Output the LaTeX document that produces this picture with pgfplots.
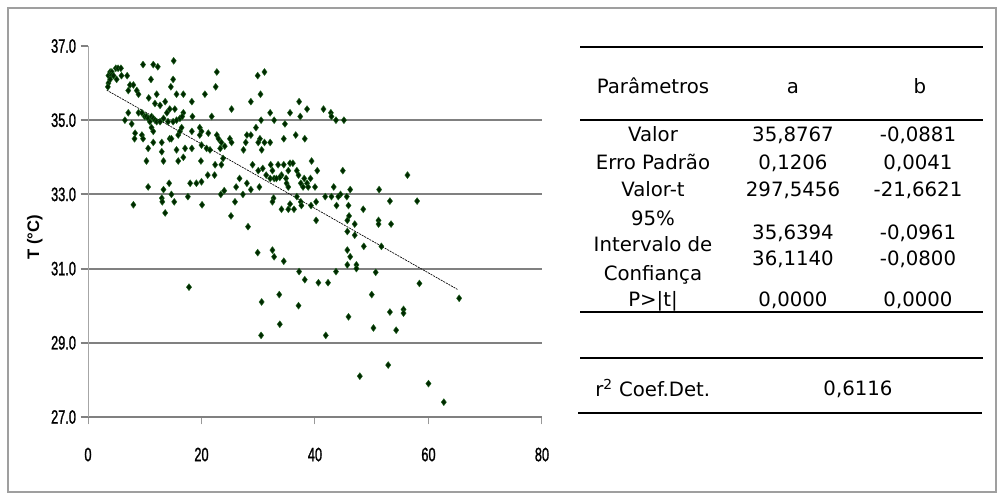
\documentclass[border=0pt]{standalone}
\usepackage{fontspec}
\setmainfont{DejaVu Sans}
\newfontfamily\tabfont{DejaVu Sans}
\newfontfamily\tickfont[FakeStretch=0.66,FakeBold=1.2]{Liberation Sans}
\newfontfamily\labfont{Liberation Sans}
\usepackage{pgfplots}
\pgfplotsset{compat=1.18}
\usepackage{pgfplotstable}
\definecolor{mkfill}{RGB}{0,40,0}
\definecolor{mkdraw}{RGB}{30,100,30}
\definecolor{gridgray}{RGB}{128,128,128}

\pgfplotstableread{
x y
3.6 36.2
3.9 36.3
4.2 36.3
4.1 36.2
4.5 36.2
4.9 36.4
5.3 36.4
5.8 36.4
5.05 36.1
5.9 36.2
6.9 36.2
3.6 36.0
3.5 35.9
3.9 36.1
9.7 36.5
11.5 36.5
12.3 36.44
15.1 36.6
11.1 36.1
15.0 36.1
14.6 35.9
22.7 36.3
22.5 35.9
7.4 35.95
8.0 35.95
7.1 35.8
8.6 35.8
8.9 35.7
10.7 35.6
12.1 35.7
15.6 35.7
16.8 35.7
20.6 35.7
18.3 35.5
25.3 35.3
13.6 35.5
11.8 35.45
12.7 35.4
14.4 35.3
13.9 35.2
15.3 35.3
16.8 35.2
21.8 35.1
18.4 35.1
7.1 35.2
8.9 35.2
9.5 35.2
10.0 35.1
10.3 35.1
10.6 35.05
11.2 35.1
11.5 35.05
11.8 35.0
10.9 34.96
12.1 34.96
12.7 34.96
7.7 34.9
6.5 35.0
13.3 35.05
14.1 34.96
15.0 34.96
16.2 35.05
16.6 35.1
15.6 35.0
11.2 34.8
11.5 34.7
8.3 34.65
8.2 34.5
9.5 34.6
9.7 34.5
11.5 34.4
13.0 34.4
14.4 34.5
14.7 34.5
15.9 34.6
16.2 34.7
16.5 34.8
18.3 34.7
19.7 34.8
20.0 34.7
19.7 34.6
21.2 34.65
22.7 34.6
23.0 34.5
25.0 34.5
25.3 34.4
23.5 34.4
10.6 34.24
13.0 34.15
15.6 34.2
17.1 34.24
18.3 34.24
20.0 34.33
20.9 34.24
21.5 34.2
23.3 34.24
24.1 34.3
10.3 33.9
13.3 33.9
15.9 33.9
16.8 34.0
19.9 33.9
22.4 33.8
23.5 33.8
23.8 33.97
21.1 33.52
22.3 33.52
20.0 33.34
19.1 33.3
18.0 33.3
14.3 33.3
10.6 33.2
13.3 33.13
14.7 33.0
17.6 32.94
23.4 33.0
24.0 33.1
13.0 32.9
8.0 32.72
13.1 32.8
13.6 32.5
15.2 32.8
17.8 30.5
20.1 32.72
25.2 32.42
29.9 36.2
31.1 36.3
30.4 35.7
28.7 35.5
37.2 35.5
32.1 35.2
35.6 35.2
37.4 35.1
38.6 35.3
41.5 35.3
42.8 35.2
42.9 35.1
43.7 35.0
45.1 35.0
30.5 35.0
32.8 35.0
34.7 34.9
29.6 34.8
28.0 34.6
28.7 34.6
27.8 34.4
30.3 34.5
30.0 34.4
31.1 34.4
32.1 34.4
27.4 34.2
30.6 34.2
34.5 34.5
36.6 34.6
38.2 34.5
39.4 33.9
29.0 33.8
32.2 33.8
33.5 33.8
34.5 33.8
35.6 33.84
36.1 33.84
30.8 33.7
30.0 33.64
32.5 33.64
35.3 33.64
36.8 33.64
40.4 33.64
44.9 33.64
31.4 33.52
34.1 33.52
33.8 33.46
37.1 33.52
26.7 33.43
32.1 33.43
32.8 33.43
33.2 33.43
34.9 33.43
38.1 33.43
39.2 33.43
28.0 33.3
26.1 33.2
30.2 33.2
28.7 33.13
35.0 33.3
35.3 33.2
37.5 33.3
37.9 33.2
38.6 33.3
38.8 33.2
40.0 33.2
43.3 33.2
46.2 33.13
27.3 33.0
44.5 33.0
36.8 32.94
41.8 32.94
42.9 32.94
44.1 32.94
45.6 32.94
32.7 32.9
25.9 32.8
32.5 32.8
34.1 32.6
35.3 32.6
35.6 32.74
36.3 32.6
37.5 32.8
37.6 32.7
39.3 32.7
40.2 32.8
43.8 32.7
45.9 32.7
48.5 32.6
40.2 32.3
46.0 32.42
45.7 32.3
47.0 32.2
45.7 32.0
47.0 31.9
48.6 31.6
28.2 32.13
29.9 31.43
32.5 31.5
32.8 31.32
34.5 31.2
45.7 31.5
46.2 31.32
45.7 31.1
47.3 31.1
47.3 31.0
37.2 30.92
38.2 30.7
40.6 30.62
42.3 30.62
43.7 30.92
30.6 30.1
33.7 30.3
37.1 30.0
45.9 29.7
33.8 29.5
30.5 29.2
41.9 29.2
47.9 28.1
56.3 33.52
51.3 33.13
53.2 32.82
58.0 32.82
51.2 32.3
51.2 32.2
53.4 32.2
51.7 31.6
50.7 30.9
58.4 30.6
50.0 30.3
53.2 29.83
55.6 29.9
55.6 29.8
65.4 30.2
50.3 29.4
54.3 29.34
52.9 28.4
60.0 27.9
62.7 27.4
}\datatable

\pgfplotstableread{
x y
3.3 35.81
65.1 30.44
}\fitline

\begin{document}
\begin{tikzpicture}
\begin{scope}[x=0.75pt,y=-0.75pt]
\useasboundingbox (0,0) rectangle (1004,500);
\draw[gray!75, line width=1.5pt] (8,8) rectangle (996,492);
\end{scope}
\begin{axis}[
  at={(66pt,-312.75pt)}, anchor=south west,
  scale only axis, width=340.5pt, height=278.25pt,
  xmin=0, xmax=80, ymin=27, ymax=37,
  axis x line*=bottom, axis y line*=left,
  x axis line style={-, gridgray, line width=1.5pt},
  y axis line style={-, gray!70, line width=0.75pt},
  xtick={0,20,40,60,80},
  ytick={29,31,33,35},
  extra y ticks={27,37},
  extra y tick style={grid=none},
  ymajorgrids,
  grid style={gridgray, line width=1.5pt},
  tick align=outside,
  major tick length=5.5pt,
  xtick style={gray!80, line width=0.75pt},
  ytick style={gridgray, line width=1.5pt},
  ticklabel style={font=\tickfont\fontsize{14.5pt}{15pt}\selectfont},
  /pgf/number format/assume math mode=true,
  y tick label style={/pgf/number format/.cd, fixed, fixed zerofill, precision=1, use period},
  xticklabel style={yshift=-14pt},
  ylabel={T (°C)},
  ylabel style={at={(axis description cs:-0.117,0.485)}, anchor=center, font=\labfont\bfseries\fontsize{12.5pt}{14pt}\selectfont},
  clip=false,
]
\addplot[only marks, mark=diamond*, mark size=2.6pt, mark options={fill=mkfill, draw=mkdraw, line width=0.3pt}] table[x=x,y=y]{\datatable};
\addplot[black, line width=0.5pt, dash pattern=on 1.5pt off 0.7pt] table[x=x,y=y]{\fitline};
\end{axis}
\begin{scope}[x=0.75pt,y=-0.75pt, every node/.style={font=\tabfont\fontsize{14.8pt}{17pt}\selectfont, anchor=base, inner sep=0pt}]
\draw[black, line width=1.5pt] (580,46.7) -- (983,46.7);
\draw[black, line width=1.5pt] (580,120) -- (983,120);
\draw[black, line width=1.5pt] (580,311.7) -- (983,311.7);
\draw[black, line width=1.5pt] (580,358) -- (983,358);
\draw[black, line width=1.5pt] (578,413) -- (982,413);
\node at (653,93) {Parâmetros};
\node at (793,93) {a};
\node at (920,93) {b};
\node at (653,141.7) {Valor};
\node at (793,141.7) {35,8767};
\node at (918,141.7) {-0,0881};
\node at (653,169) {Erro Padrão};
\node at (793,169) {0,1206};
\node at (918,169) {0,0041};
\node at (653,196.7) {Valor-t};
\node at (793,196.7) {297,5456};
\node at (918,196.7) {-21,6621};
\node at (653,225) {95\%};
\node at (653,251.7) {Intervalo de};
\node at (653,280) {Confiança};
\node at (793,239) {35,6394};
\node at (918,239) {-0,0961};
\node at (793,265) {36,1140};
\node at (918,265) {-0,0800};
\node at (653,306) {P>|t|};
\node at (793,306) {0,0000};
\node at (918,306) {0,0000};
\node[anchor=base west] at (595,396.7) {r\textsuperscript{2} Coef.Det.};
\node at (858,395) {0,6116};
\end{scope}
\end{tikzpicture}
\end{document}
